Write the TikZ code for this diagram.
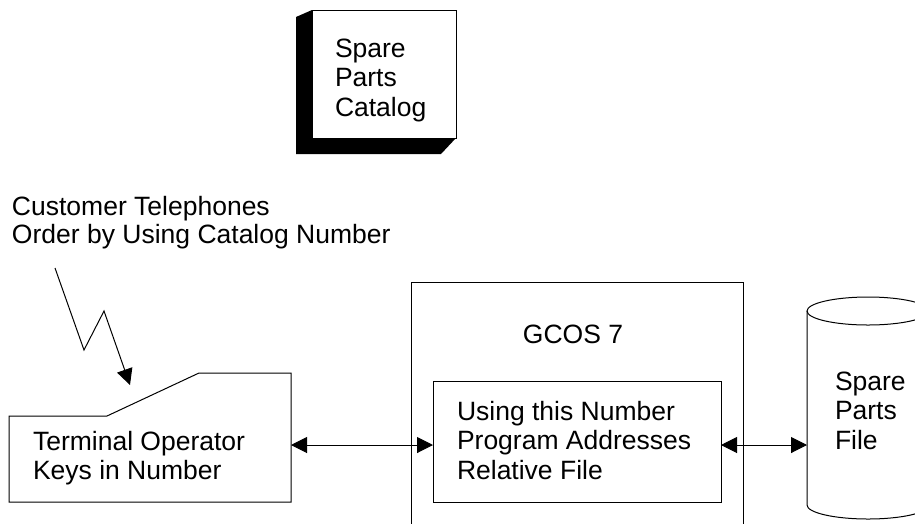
\documentclass[tikz,border=0pt]{standalone}
\usepackage{fontspec}
\setmainfont{Liberation Sans}
\usetikzlibrary{arrows.meta}
\newcommand\mylines[1]{\begin{tabular}[t]{@{}l@{}}#1\end{tabular}}
\begin{document}
\begin{tikzpicture}[x=1pt,y=-1pt,
  every node/.style={inner sep=0pt, outer sep=0pt},
  lbl/.style={anchor=base west, font=\fontsize{26.5}{29.5}\selectfont},
  lblc/.style={anchor=base west, font=\fontsize{26.5}{28}\selectfont},
  ln/.style={line width=1pt},
  tip/.style={-{Triangle[length=16pt,width=16pt]}, line width=1pt},
  dbl/.style={{Triangle[length=16pt,width=16pt]}-{Triangle[length=16pt,width=16pt]}, line width=1pt}]
\useasboundingbox (0,0) rectangle (915,523);
\clip (0,0) rectangle (915,523);
\fill[white] (0,0) rectangle (915,523);
% catalog block with shadow
\fill[black] (312,10) -- (296,17) -- (296,154) -- (441,154) -- (456,138) -- (312,138) -- cycle;
\node[draw, ln, fill=white, minimum width=144pt, minimum height=128pt, anchor=north west] (cat) at (312,10) {};
\node[lbl] (cattxt) at (335,57) {\mylines{Spare\\Parts\\Catalog}};
% customer text
\node[lblc] (cust) at (12,215) {\mylines{Customer Telephones\\Order by Using Catalog Number}};
% lightning
\coordinate (ls) at (55,268);
\coordinate (lt) at (130,385);
\draw[tip] (ls) -- (84,350) -- (104,311) -- (lt);
% terminal
\draw[ln] (9,416) -- (107,416) -- (199,373) -- (291,373) -- (291,502) -- (9,502) -- cycle;
\coordinate (termE) at (291,445);
\node[lbl] (term) at (33,450) {\mylines{Terminal Operator\\Keys in Number}};
% GCOS box
\draw[ln] (411,530) -- (411,282) -- (743,282) -- (743,530);
\node[anchor=base, font=\fontsize{26.5}{29.5}\selectfont] (gcos) at (573,343) {GCOS 7};
\node[draw, ln, minimum width=288pt, minimum height=121pt, anchor=north west] (inner) at (433,381) {};
\node[lbl] (innertxt) at (457,420) {\mylines{Using this Number\\Program Addresses\\Relative File}};
% cylinder
\draw[ln] (868,311) ellipse [x radius=61pt, y radius=14pt];
\draw[ln] (807,311) -- (807,505) arc[start angle=180, end angle=360, x radius=61pt, y radius=14pt] -- (929,311);
\coordinate (cyl) at (807,445);
\node[lbl] (cyltxt) at (835,390) {\mylines{Spare\\Parts\\File}};
% connectors
\draw[dbl] (termE) -- (inner.west |- termE);
\draw[dbl] (inner.east |- cyl) -- (cyl);
\end{tikzpicture}
\end{document}
